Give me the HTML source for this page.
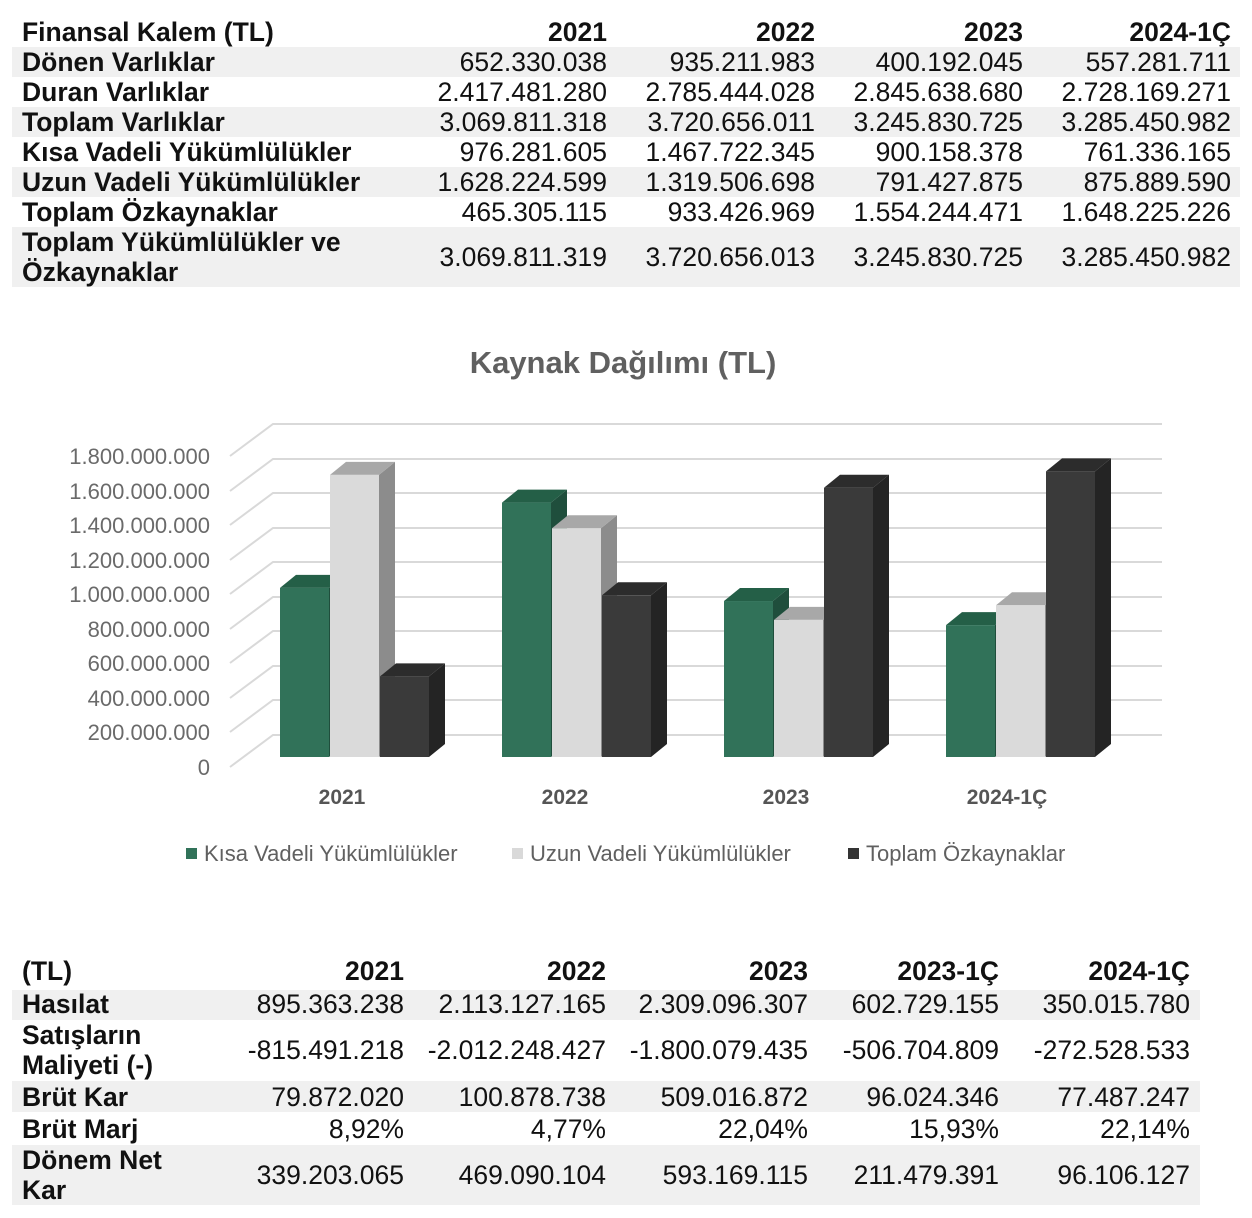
<!DOCTYPE html>
<html><head><meta charset="utf-8"><style>
body{margin:0;width:1252px;height:1218px;background:#fff;position:relative;overflow:hidden;font-family:"Liberation Sans",Arial,sans-serif;color:#111}
.b{position:absolute;background:#f0f0f0}
.t{position:absolute;font-size:26.5px;line-height:26px;white-space:nowrap}
.l{font-weight:bold}
.r{text-align:right;width:200px}
.h{font-weight:bold}
</style></head><body>
<!-- top table bands -->
<div class="b" style="left:12px;top:47px;width:1228px;height:30px"></div>
<div class="b" style="left:12px;top:107px;width:1228px;height:30px"></div>
<div class="b" style="left:12px;top:167px;width:1228px;height:30px"></div>
<div class="b" style="left:12px;top:227px;width:1228px;height:60px"></div>

<div class="t l" style="left:22px;top:19px">Finansal Kalem (TL)</div>
<div class="t r h" style="left:407px;top:19px">2021</div>
<div class="t r h" style="left:615px;top:19px">2022</div>
<div class="t r h" style="left:823px;top:19px">2023</div>
<div class="t r h" style="left:1031px;top:19px">2024-1Ç</div>

<div class="t l" style="left:22px;top:49px">Dönen Varlıklar</div>
<div class="t r" style="left:407px;top:49px">652.330.038</div><div class="t r" style="left:615px;top:49px">935.211.983</div><div class="t r" style="left:823px;top:49px">400.192.045</div><div class="t r" style="left:1031px;top:49px">557.281.711</div>
<div class="t l" style="left:22px;top:79px">Duran Varlıklar</div>
<div class="t r" style="left:407px;top:79px">2.417.481.280</div><div class="t r" style="left:615px;top:79px">2.785.444.028</div><div class="t r" style="left:823px;top:79px">2.845.638.680</div><div class="t r" style="left:1031px;top:79px">2.728.169.271</div>
<div class="t l" style="left:22px;top:109px">Toplam Varlıklar</div>
<div class="t r" style="left:407px;top:109px">3.069.811.318</div><div class="t r" style="left:615px;top:109px">3.720.656.011</div><div class="t r" style="left:823px;top:109px">3.245.830.725</div><div class="t r" style="left:1031px;top:109px">3.285.450.982</div>
<div class="t l" style="left:22px;top:139px">Kısa Vadeli Yükümlülükler</div>
<div class="t r" style="left:407px;top:139px">976.281.605</div><div class="t r" style="left:615px;top:139px">1.467.722.345</div><div class="t r" style="left:823px;top:139px">900.158.378</div><div class="t r" style="left:1031px;top:139px">761.336.165</div>
<div class="t l" style="left:22px;top:169px">Uzun Vadeli Yükümlülükler</div>
<div class="t r" style="left:407px;top:169px">1.628.224.599</div><div class="t r" style="left:615px;top:169px">1.319.506.698</div><div class="t r" style="left:823px;top:169px">791.427.875</div><div class="t r" style="left:1031px;top:169px">875.889.590</div>
<div class="t l" style="left:22px;top:199px">Toplam Özkaynaklar</div>
<div class="t r" style="left:407px;top:199px">465.305.115</div><div class="t r" style="left:615px;top:199px">933.426.969</div><div class="t r" style="left:823px;top:199px">1.554.244.471</div><div class="t r" style="left:1031px;top:199px">1.648.225.226</div>
<div class="t l" style="left:22px;top:229px">Toplam Yükümlülükler ve</div>
<div class="t l" style="left:22px;top:259px">Özkaynaklar</div>
<div class="t r" style="left:407px;top:244px">3.069.811.319</div><div class="t r" style="left:615px;top:244px">3.720.656.013</div><div class="t r" style="left:823px;top:244px">3.245.830.725</div><div class="t r" style="left:1031px;top:244px">3.285.450.982</div>

<!-- chart -->
<svg style="position:absolute;left:0;top:0" width="1252" height="1218" font-family="Liberation Sans, Arial, sans-serif">
<text x="623" y="373" text-anchor="middle" font-size="31" font-weight="bold" fill="#606060">Kaynak Dağılımı (TL)</text>
<g stroke="#d9d9d9" stroke-width="2" fill="none">
<path d="M230 767 L273 735 H1162"/><path d="M230 732 L273 700 H1162"/><path d="M230 698 L273 666 H1162"/><path d="M230 663 L273 631 H1162"/><path d="M230 629 L273 597 H1162"/><path d="M230 594 L273 562 H1162"/><path d="M230 560 L273 528 H1162"/><path d="M230 525 L273 493 H1162"/><path d="M230 491 L273 459 H1162"/><path d="M230 456 L273 424 H1162"/>
</g>
<g font-size="22" fill="#6a6a6a" text-anchor="end">
<text x="210" y="775">0</text><text x="210" y="740">200.000.000</text><text x="210" y="706">400.000.000</text><text x="210" y="671">600.000.000</text><text x="210" y="637">800.000.000</text><text x="210" y="602">1.000.000.000</text><text x="210" y="568">1.200.000.000</text><text x="210" y="533">1.400.000.000</text><text x="210" y="499">1.600.000.000</text><text x="210" y="464">1.800.000.000</text>
</g>
<g id="bars"></g>
<g font-size="21" font-weight="bold" fill="#555" text-anchor="middle">
<text x="342" y="804">2021</text><text x="565" y="804">2022</text><text x="786" y="804">2023</text><text x="1007" y="804">2024-1Ç</text>
</g>
<g font-size="22" fill="#606060">
<rect x="186" y="848" width="11" height="11" fill="#317259"/><text x="204" y="861">Kısa Vadeli Yükümlülükler</text>
<rect x="512" y="848" width="11" height="11" fill="#d9d9d9"/><text x="530" y="861">Uzun Vadeli Yükümlülükler</text>
<rect x="848" y="848" width="11" height="11" fill="#333"/><text x="866" y="861">Toplam Özkaynaklar</text>
</g>
</svg>
<script>
var g=document.getElementById('bars'),s='';
var data=[[976,1628,465],[1468,1320,933],[900,791,1554],[761,876,1648]];
var cols=[['#317259','#1f4e3c','#245f47'],['#dadada','#8c8c8c','#a8a8a8'],['#3a3a3a','#242424','#2c2c2c']];
data.forEach(function(d,i){d.forEach(function(v,j){
var x=280+i*222+j*50,w=49,top=757-v*0.1733,c=cols[j];
s+='<polygon fill="'+c[1]+'" points="'+(x+w)+','+top+' '+(x+w+16)+','+(top-13)+' '+(x+w+16)+','+744+' '+(x+w)+',757"/>';
s+='<polygon fill="'+c[2]+'" points="'+x+','+top+' '+(x+16)+','+(top-13)+' '+(x+w+16)+','+(top-13)+' '+(x+w)+','+top+'"/>';
s+='<rect fill="'+c[0]+'" x="'+x+'" y="'+top+'" width="'+w+'" height="'+(757-top)+'"/>';
});});
g.innerHTML=s;
</script>

<!-- bottom table -->
<div class="b" style="left:12px;top:990px;width:1188px;height:30px"></div>
<div class="b" style="left:12px;top:1081px;width:1188px;height:31px"></div>
<div class="b" style="left:12px;top:1145px;width:1188px;height:60px"></div>

<div class="t l" style="left:22px;top:958px">(TL)</div>
<div class="t r h" style="left:204px;top:958px">2021</div><div class="t r h" style="left:406px;top:958px">2022</div><div class="t r h" style="left:608px;top:958px">2023</div><div class="t r h" style="left:799px;top:958px">2023-1Ç</div><div class="t r h" style="left:990px;top:958px">2024-1Ç</div>
<div class="t l" style="left:22px;top:991px">Hasılat</div>
<div class="t r" style="left:204px;top:991px">895.363.238</div><div class="t r" style="left:406px;top:991px">2.113.127.165</div><div class="t r" style="left:608px;top:991px">2.309.096.307</div><div class="t r" style="left:799px;top:991px">602.729.155</div><div class="t r" style="left:990px;top:991px">350.015.780</div>
<div class="t l" style="left:22px;top:1022px">Satışların</div>
<div class="t l" style="left:22px;top:1052px">Maliyeti (-)</div>
<div class="t r" style="left:204px;top:1037px">-815.491.218</div><div class="t r" style="left:406px;top:1037px">-2.012.248.427</div><div class="t r" style="left:608px;top:1037px">-1.800.079.435</div><div class="t r" style="left:799px;top:1037px">-506.704.809</div><div class="t r" style="left:990px;top:1037px">-272.528.533</div>
<div class="t l" style="left:22px;top:1084px">Brüt Kar</div>
<div class="t r" style="left:204px;top:1084px">79.872.020</div><div class="t r" style="left:406px;top:1084px">100.878.738</div><div class="t r" style="left:608px;top:1084px">509.016.872</div><div class="t r" style="left:799px;top:1084px">96.024.346</div><div class="t r" style="left:990px;top:1084px">77.487.247</div>
<div class="t l" style="left:22px;top:1116px">Brüt Marj</div>
<div class="t r" style="left:204px;top:1116px">8,92%</div><div class="t r" style="left:406px;top:1116px">4,77%</div><div class="t r" style="left:608px;top:1116px">22,04%</div><div class="t r" style="left:799px;top:1116px">15,93%</div><div class="t r" style="left:990px;top:1116px">22,14%</div>
<div class="t l" style="left:22px;top:1147px">Dönem Net</div>
<div class="t l" style="left:22px;top:1177px">Kar</div>
<div class="t r" style="left:204px;top:1162px">339.203.065</div><div class="t r" style="left:406px;top:1162px">469.090.104</div><div class="t r" style="left:608px;top:1162px">593.169.115</div><div class="t r" style="left:799px;top:1162px">211.479.391</div><div class="t r" style="left:990px;top:1162px">96.106.127</div>
</body></html>
